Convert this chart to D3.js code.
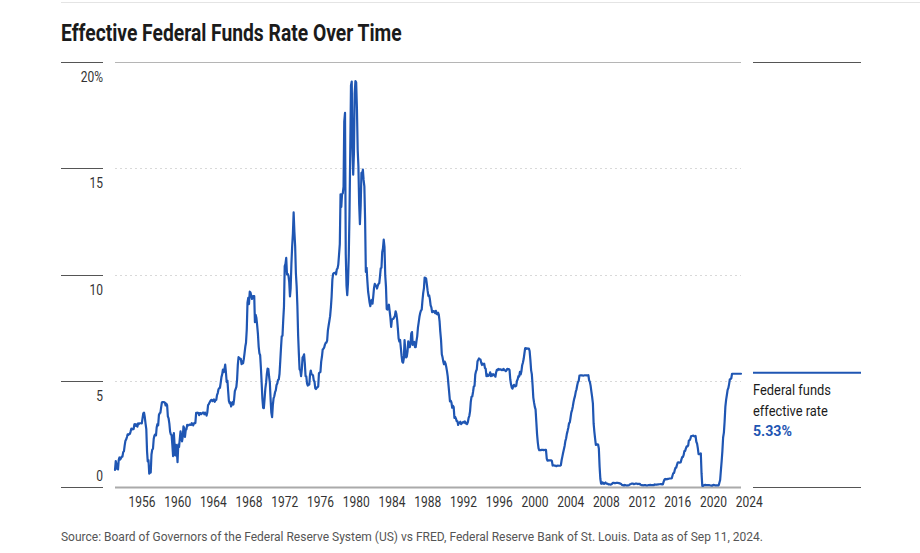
<!DOCTYPE html>
<html>
<head>
<meta charset="utf-8">
<script src="https://cdn.jsdelivr.net/npm/d3@7"></script>
<style>
  html, body { margin: 0; padding: 0; background: #fff; }
  svg { display: block; }
  text { font-family: Roboto, "Liberation Sans", "DejaVu Sans", sans-serif; }
</style>
</head>
<body>
<svg id="chart" width="920" height="553"></svg>
<script>
// ---- Data ----
const title = "Effective Federal Funds Rate Over Time";
const sourceNote = "Source: Board of Governors of the Federal Reserve System (US) vs FRED, Federal Reserve Bank of St. Louis. Data as of Sep 11, 2024.";
const seriesName = ["Federal funds", "effective rate"];
const latestLabel = "5.33%";
const startYear = 1954, startMonth = 6; // July 1954 (0-based month)
const yTicks = [0, 5, 10, 15, 20];
const yTickLabels = ["0", "5", "10", "15", "20%"];
const xTickYears = [1956, 1960, 1964, 1968, 1972, 1976, 1980, 1984, 1988, 1992, 1996, 2000, 2004, 2008, 2012, 2016, 2020, 2024];
// monthly effective federal funds rate, %
const monthlyRates = [
  0.80, 1.22, 1.06, 0.85, 0.83, 1.28,                                   // 1954 (Jul-Dec)
  1.39, 1.29, 1.35, 1.43, 1.43, 1.64, 1.68, 1.96, 2.18, 2.24, 2.35, 2.48, // 1955
  2.45, 2.50, 2.50, 2.62, 2.75, 2.71, 2.75, 2.73, 2.95, 2.96, 2.88, 2.94, // 1956
  2.84, 3.00, 2.96, 3.00, 3.00, 3.00, 2.99, 3.24, 3.47, 3.50, 3.28, 2.98, // 1957
  2.72, 1.67, 1.20, 1.26, 0.63, 0.93, 0.68, 1.53, 1.76, 1.80, 2.27, 2.42, // 1958
  2.48, 2.43, 2.80, 2.96, 2.90, 3.39, 3.47, 3.50, 3.76, 3.98, 4.00, 3.99, // 1959
  3.99, 3.97, 3.84, 3.92, 3.85, 3.32, 3.23, 2.98, 2.60, 2.47, 2.44, 1.98, // 1960
  1.45, 2.54, 2.02, 1.49, 1.98, 1.73, 1.17, 2.00, 1.88, 2.26, 2.62, 2.33, // 1961
  2.15, 2.37, 2.85, 2.78, 2.36, 2.68, 2.71, 2.93, 2.90, 2.90, 2.94, 2.93, // 1962
  2.92, 3.00, 2.98, 2.90, 3.00, 2.99, 3.02, 3.49, 3.48, 3.50, 3.48, 3.38, // 1963
  3.48, 3.48, 3.43, 3.47, 3.50, 3.50, 3.42, 3.50, 3.45, 3.36, 3.52, 3.85, // 1964
  3.90, 3.98, 4.04, 4.09, 4.10, 4.04, 4.09, 4.12, 4.01, 4.08, 4.10, 4.32, // 1965
  4.42, 4.60, 4.65, 4.67, 4.90, 5.17, 5.30, 5.53, 5.40, 5.53, 5.76, 5.40, // 1966
  4.94, 5.00, 4.53, 4.05, 3.94, 3.98, 3.79, 3.90, 3.99, 3.88, 4.13, 4.51, // 1967
  4.61, 4.71, 5.05, 5.76, 6.11, 6.07, 6.02, 6.03, 5.78, 5.91, 5.82, 6.02, // 1968
  6.30, 6.61, 6.79, 7.41, 8.67, 8.90, 8.61, 9.19, 9.15, 9.00, 8.85, 8.97, // 1969
  8.98, 8.98, 7.76, 8.10, 7.95, 7.61, 7.21, 6.61, 6.29, 6.20, 5.60, 4.90, // 1970
  4.14, 3.72, 3.71, 4.16, 4.63, 4.91, 5.31, 5.57, 5.55, 5.20, 4.91, 4.14, // 1971
  3.50, 3.29, 3.83, 4.17, 4.27, 4.46, 4.55, 4.80, 4.87, 5.04, 5.06, 5.33, // 1972
  5.94, 6.58, 7.09, 7.12, 7.84, 8.49, 10.40, 10.50, 10.78, 10.01, 10.03, 9.95, // 1973
  9.65, 8.97, 9.35, 10.51, 11.31, 11.93, 12.92, 12.01, 11.34, 10.06, 9.45, 8.53, // 1974
  7.13, 6.24, 5.54, 5.49, 5.22, 5.55, 6.10, 6.14, 6.24, 5.82, 5.22, 5.20, // 1975
  4.87, 4.77, 4.84, 4.82, 5.29, 5.48, 5.31, 5.29, 5.25, 5.02, 4.95, 4.65, // 1976
  4.61, 4.68, 4.69, 4.73, 5.35, 5.39, 5.42, 5.90, 6.14, 6.47, 6.51, 6.56, // 1977
  6.70, 6.78, 6.79, 6.89, 7.36, 7.60, 7.81, 8.04, 8.45, 8.96, 9.76, 10.03, // 1978
  10.07, 10.06, 10.09, 10.01, 10.24, 10.29, 10.47, 10.94, 11.43, 13.77, 13.18, 13.78, // 1979
  13.82, 14.13, 17.19, 17.61, 10.98, 9.47, 9.03, 9.61, 10.87, 12.81, 15.85, 18.90, // 1980
  19.08, 15.93, 14.70, 15.72, 18.52, 19.10, 19.04, 17.82, 15.87, 15.08, 13.31, 12.37, // 1981
  13.22, 14.78, 14.68, 14.94, 14.45, 14.15, 12.59, 10.12, 10.31, 9.71, 9.20, 8.95, // 1982
  8.68, 8.51, 8.77, 8.80, 8.63, 8.98, 9.37, 9.56, 9.45, 9.48, 9.34, 9.47, // 1983
  9.56, 9.59, 9.91, 10.29, 10.32, 11.06, 11.23, 11.64, 11.30, 9.99, 9.43, 8.38, // 1984
  8.35, 8.50, 8.58, 8.27, 7.97, 7.53, 7.88, 7.90, 7.92, 7.99, 8.05, 8.27, // 1985
  8.14, 7.86, 7.48, 6.99, 6.85, 6.92, 6.56, 6.17, 5.89, 5.85, 6.04, 6.91, // 1986
  6.43, 6.10, 6.13, 6.37, 6.85, 6.73, 6.58, 6.73, 7.22, 7.29, 6.69, 6.77, // 1987
  6.83, 6.58, 6.58, 6.87, 7.09, 7.51, 7.75, 8.01, 8.19, 8.30, 8.35, 8.76, // 1988
  9.12, 9.36, 9.85, 9.84, 9.81, 9.53, 9.24, 8.99, 9.02, 8.84, 8.55, 8.45, // 1989
  8.23, 8.24, 8.28, 8.26, 8.18, 8.29, 8.15, 8.13, 8.20, 8.11, 7.81, 7.31, // 1990
  6.91, 6.25, 6.12, 5.91, 5.78, 5.90, 5.82, 5.66, 5.45, 5.21, 4.81, 4.43, // 1991
  4.03, 4.06, 3.98, 3.73, 3.82, 3.76, 3.25, 3.30, 3.22, 3.10, 3.09, 2.92, // 1992
  3.02, 3.03, 3.07, 2.96, 3.00, 3.04, 3.06, 3.03, 3.09, 2.99, 3.02, 2.96, // 1993
  3.05, 3.25, 3.34, 3.56, 4.01, 4.25, 4.26, 4.47, 4.73, 4.76, 5.29, 5.45, // 1994
  5.53, 5.92, 5.98, 6.05, 6.01, 6.00, 5.85, 5.74, 5.80, 5.76, 5.80, 5.60, // 1995
  5.56, 5.22, 5.31, 5.22, 5.24, 5.27, 5.40, 5.22, 5.30, 5.24, 5.31, 5.29, // 1996
  5.25, 5.19, 5.39, 5.51, 5.50, 5.56, 5.52, 5.54, 5.54, 5.50, 5.52, 5.50, // 1997
  5.56, 5.51, 5.49, 5.45, 5.49, 5.56, 5.54, 5.55, 5.51, 5.07, 4.83, 4.68, // 1998
  4.63, 4.76, 4.81, 4.74, 4.74, 4.76, 4.99, 5.07, 5.22, 5.20, 5.42, 5.30, // 1999
  5.45, 5.73, 5.85, 6.02, 6.27, 6.53, 6.54, 6.50, 6.52, 6.51, 6.51, 6.40, // 2000
  5.98, 5.49, 5.31, 4.80, 4.21, 3.97, 3.77, 3.65, 3.07, 2.49, 2.09, 1.82, // 2001
  1.73, 1.74, 1.73, 1.75, 1.75, 1.75, 1.73, 1.74, 1.75, 1.75, 1.34, 1.24, // 2002
  1.24, 1.26, 1.25, 1.26, 1.26, 1.22, 1.01, 1.03, 1.01, 1.01, 1.00, 0.98, // 2003
  1.00, 1.01, 1.00, 1.00, 1.00, 1.03, 1.26, 1.43, 1.61, 1.76, 1.93, 2.16, // 2004
  2.28, 2.50, 2.63, 2.79, 3.00, 3.04, 3.26, 3.50, 3.62, 3.78, 4.00, 4.16, // 2005
  4.29, 4.49, 4.59, 4.79, 4.94, 4.99, 5.24, 5.25, 5.25, 5.25, 5.25, 5.24, // 2006
  5.25, 5.26, 5.26, 5.25, 5.25, 5.25, 5.26, 5.02, 4.94, 4.76, 4.49, 4.24, // 2007
  3.94, 2.98, 2.61, 2.28, 1.98, 2.00, 2.01, 2.00, 1.81, 0.97, 0.39, 0.16, // 2008
  0.15, 0.22, 0.18, 0.15, 0.18, 0.21, 0.16, 0.16, 0.15, 0.12, 0.12, 0.12, // 2009
  0.11, 0.13, 0.16, 0.20, 0.20, 0.18, 0.18, 0.19, 0.19, 0.19, 0.19, 0.18, // 2010
  0.17, 0.16, 0.14, 0.10, 0.09, 0.09, 0.07, 0.10, 0.08, 0.07, 0.08, 0.07, // 2011
  0.08, 0.10, 0.13, 0.14, 0.16, 0.16, 0.16, 0.13, 0.14, 0.16, 0.16, 0.16, // 2012
  0.14, 0.15, 0.14, 0.15, 0.11, 0.09, 0.09, 0.08, 0.08, 0.09, 0.08, 0.09, // 2013
  0.07, 0.07, 0.08, 0.09, 0.09, 0.10, 0.09, 0.09, 0.09, 0.09, 0.09, 0.12, // 2014
  0.11, 0.11, 0.11, 0.12, 0.12, 0.13, 0.13, 0.14, 0.14, 0.12, 0.12, 0.24, // 2015
  0.34, 0.38, 0.36, 0.37, 0.37, 0.38, 0.39, 0.40, 0.40, 0.40, 0.41, 0.54, // 2016
  0.65, 0.66, 0.79, 0.90, 0.91, 1.04, 1.15, 1.16, 1.15, 1.15, 1.16, 1.30, // 2017
  1.41, 1.42, 1.51, 1.69, 1.70, 1.82, 1.91, 1.91, 1.95, 2.19, 2.20, 2.27, // 2018
  2.40, 2.40, 2.41, 2.42, 2.39, 2.38, 2.40, 2.13, 2.04, 1.83, 1.55, 1.55, // 2019
  1.55, 1.58, 0.65, 0.05, 0.05, 0.08, 0.09, 0.10, 0.09, 0.09, 0.09, 0.09, // 2020
  0.09, 0.08, 0.07, 0.07, 0.06, 0.08, 0.10, 0.09, 0.08, 0.08, 0.08, 0.08, // 2021
  0.08, 0.08, 0.20, 0.33, 0.77, 1.21, 1.68, 2.33, 2.56, 3.08, 3.78, 4.10, // 2022
  4.33, 4.57, 4.65, 4.83, 5.06, 5.08, 5.12, 5.33, 5.33, 5.33, 5.33, 5.33, // 2023
  5.33, 5.33, 5.33, 5.33, 5.33, 5.33, 5.33, 5.33                          // 2024 (Jan-Aug)
];

// ---- Build ----
const data = monthlyRates.map((v, i) => ({ date: new Date(startYear, startMonth + i, 1), value: v }));
const lineColor = "#1f56b3";
const svg = d3.select("#chart");

const plotLeft = 115, plotRight = 741, plotTop = 62, plotBottom = 487;
const panelLeft = 753, panelRight = 861;
const axisLeft = 61, axisRight = 103;
const narrow = 0.8; // horizontal compression to mimic a condensed face

// text helper: condensed text placed at (x, y); optional target width
function label(str, px, py, opts = {}) {
  const g = svg.append("g");
  const t = g.append("text")
    .attr("font-size", opts.size || 15)
    .attr("font-weight", opts.weight || "normal")
    .attr("fill", opts.fill || "#333")
    .attr("text-anchor", opts.anchor || "start")
    .text(str);
  let sx = narrow;
  if (opts.width) sx = opts.width / t.node().getComputedTextLength();
  g.attr("transform", `translate(${px},${py}) scale(${sx},1)`);
  return g;
}

const x = d3.scaleTime()
  .domain([data[0].date, data[data.length - 1].date])
  .range([plotLeft, plotRight]);
const y = d3.scaleLinear().domain([0, 20]).range([plotBottom, plotTop]);

// top rule
svg.append("line").attr("x1", axisLeft).attr("x2", 920).attr("y1", 2.5).attr("y2", 2.5)
  .attr("stroke", "#e4e4e4").attr("stroke-width", 1);

// title
label(title, axisLeft, 41, { size: 24, weight: "bold", fill: "#1b1b1b", width: 341 });

// y tick lines at left + labels
yTicks.forEach((t, i) => {
  const yy = Math.round(y(t)) + 0.5;
  svg.append("line").attr("x1", axisLeft).attr("x2", axisRight).attr("y1", yy).attr("y2", yy)
    .attr("stroke", "#555").attr("stroke-width", 1);
  label(yTickLabels[i], axisRight, t === 0 ? yy - 7 : yy + 19.5, { size: 15, anchor: "end", fill: "#333" });
  if (t > 0 && t < 20) {
    svg.append("line").attr("x1", plotLeft).attr("x2", plotRight).attr("y1", yy).attr("y2", yy)
      .attr("stroke", "#d9d9d9").attr("stroke-width", 1).attr("stroke-dasharray", "2,3");
  }
});
// top plot rule (20%)
svg.append("line").attr("x1", plotLeft).attr("x2", plotRight)
  .attr("y1", Math.round(y(20)) + 0.5).attr("y2", Math.round(y(20)) + 0.5)
  .attr("stroke", "#b5b5b5").attr("stroke-width", 1);

// x axis baseline
svg.append("line").attr("x1", plotLeft).attr("x2", plotRight)
  .attr("y1", y(0) + 0.5).attr("y2", y(0) + 0.5)
  .attr("stroke", "#aaa").attr("stroke-width", 2);

// x labels
xTickYears.forEach(yr => {
  label(String(yr), x(new Date(yr, 0, 1)), 507, { size: 15, fill: "#333" });
});

// line
const line = d3.line().x(d => x(d.date)).y(d => y(d.value)).curve(d3.curveLinear);
svg.append("path").datum(data)
  .attr("d", line)
  .attr("fill", "none").attr("stroke", lineColor).attr("stroke-width", 2.2)
  .attr("stroke-linejoin", "round").attr("stroke-linecap", "round");

// right panel
const last = data[data.length - 1];
svg.append("line").attr("x1", panelLeft).attr("x2", panelRight)
  .attr("y1", Math.round(y(20)) + 0.5).attr("y2", Math.round(y(20)) + 0.5)
  .attr("stroke", "#555").attr("stroke-width", 1);
svg.append("line").attr("x1", panelLeft).attr("x2", panelRight)
  .attr("y1", Math.round(y(0)) + 0.5).attr("y2", Math.round(y(0)) + 0.5)
  .attr("stroke", "#555").attr("stroke-width", 1);
svg.append("line").attr("x1", panelLeft).attr("x2", panelRight)
  .attr("y1", y(last.value) - 1).attr("y2", y(last.value) - 1)
  .attr("stroke", lineColor).attr("stroke-width", 2);
const panelWidths = [78, 75];
seriesName.forEach((s, i) => {
  label(s, panelLeft, 395 + i * 20.5, { size: 15, fill: "#1b1b1b", width: panelWidths[i] });
});
label(latestLabel, panelLeft, 436, { size: 15, weight: "bold", fill: lineColor, width: 39 });

// source
label(sourceNote, axisLeft, 541, { size: 12.5, fill: "#555", width: 702 });
</script>
</body>
</html>
